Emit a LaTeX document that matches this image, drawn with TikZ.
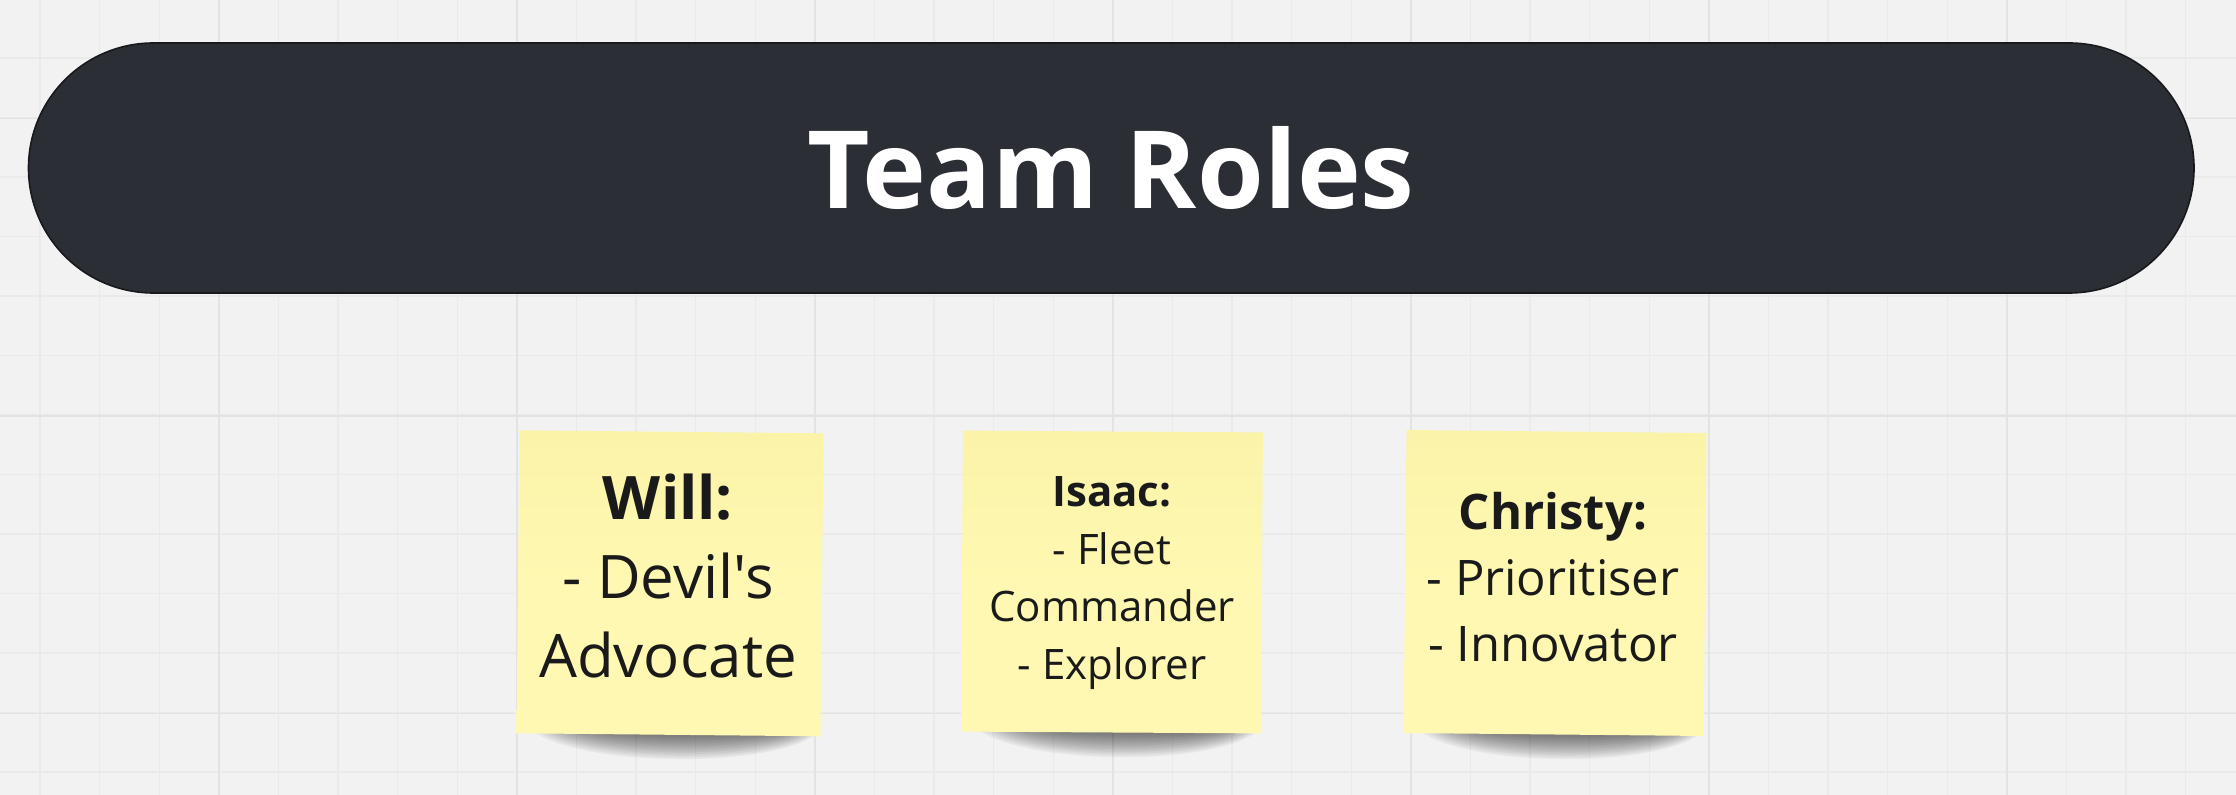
\documentclass[tikz,border=0pt]{standalone}
\usepackage{fontspec}
\setmainfont{Open Sans}[Ligatures=TeXOff]
\usetikzlibrary{shapes.misc}
\definecolor{bgcol}{HTML}{F2F2F2}
\definecolor{gridminor}{HTML}{EAEAEA}
\definecolor{gridmajor}{HTML}{E3E3E3}
\definecolor{bannerfill}{HTML}{2B2E34}
\definecolor{bannerline}{HTML}{17191C}
\definecolor{stickyfill}{HTML}{FEF8B2}
\definecolor{stickytop}{HTML}{FBF3A8}
\definecolor{inkcol}{HTML}{1A1A1A}
\tikzset{
  banner/.style={rounded rectangle, fill=bannerfill, draw=bannerline, line width=0.8pt,
    minimum width=1082.75pt, minimum height=125pt, inner sep=0pt, text=white,
    font=\fontsize{54}{60}\selectfont\bfseries},
  sticky/.style={rectangle, inner sep=0pt, top color=stickytop, bottom color=stickyfill,
    middle color=stickyfill, shading angle=0},
  stickytext/.style={align=center, inner sep=0pt, text=inkcol},
}
\newcommand{\nshadow}[3]{%
  \foreach \k in {0,...,13}{%
    \fill[black, opacity=0.042] ({#1+12+4*\k}, {#3-6}) .. controls ({#1+60+3*\k}, {#3+34-2.3*\k}) and ({#2-40-2*\k}, {#3+34-2.3*\k}) .. ({#2-2-2.5*\k}, {#3-4}) -- cycle;
  }}
\begin{document}
\begin{tikzpicture}[x=0.5pt, y=-0.5pt]
\useasboundingbox (0,0) rectangle (2236,795);
\fill[bgcol] (0,0) rectangle (2236,795);
% grid
\foreach \i in {0,...,37}{
  \draw[gridminor, line width=0.6pt] ({39.9+59.6*\i},0) -- ({39.9+59.6*\i},795);
}
\foreach \j in {1,...,13}{
  \draw[gridminor, line width=0.6pt] (0,{-1.5+59.5*\j}) -- (2236,{-1.5+59.5*\j});
}
\foreach \i in {0,...,7}{
  \draw[gridmajor, line width=0.8pt] ({219+298*\i},0) -- ({219+298*\i},795);
}
\foreach \j in {0,1,2}{
  \draw[gridmajor, line width=0.8pt] (0,{118.5+297.5*\j}) -- (2236,{118.5+297.5*\j});
}
% banner
\node[banner] (title) at (1111.25,168) {Team Roles};
% shadows
\nshadow{518}{822}{735}
\nshadow{962}{1262}{733}
\nshadow{1405}{1705}{735}
% sticky notes
\node[sticky, rotate=-0.57, minimum width=152pt, minimum height=151.5pt] (will) at (670,583.3) {};
\node[sticky, rotate=-0.35, minimum width=150pt, minimum height=150.5pt] (isaac) at (1112,582) {};
\node[sticky, rotate=-0.57, minimum width=150pt, minimum height=151.5pt] (christy) at (1555,583) {};
% texts
\node[stickytext, font=\fontsize{30}{39.5}\selectfont] (willtext) at (668,576)
  {\textbf{Will:}\\- Devil's\\Advocate};
\node[stickytext, font=\fontsize{21}{28.75}\selectfont] (isaactext) at (1112,583)
  {\textbf{Isaac:}\\- Fleet\\Commander\\- Explorer};
\node[stickytext, font=\fontsize{24.5}{33}\selectfont] (christytext) at (1553,577.5)
  {\textbf{Christy:}\\- Prioritiser\\- Innovator};
\end{tikzpicture}
\end{document}
